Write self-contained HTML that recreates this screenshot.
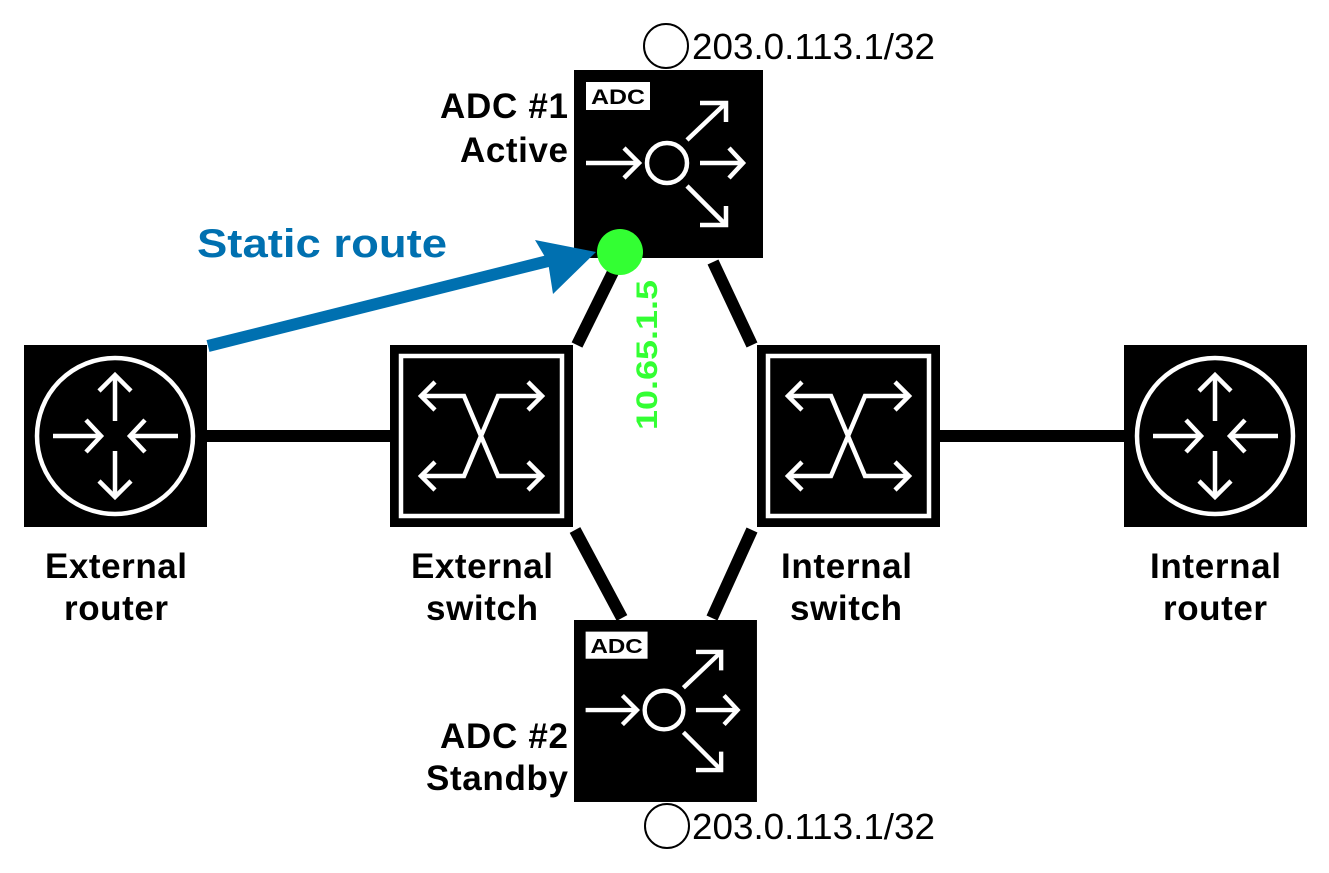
<!DOCTYPE html>
<html><head><meta charset="utf-8"><style>
html,body{margin:0;padding:0;background:#fff;}
svg{display:block;}
text{font-family:"Liberation Sans",Arial,sans-serif;}
</style></head><body>
<svg width="1329" height="873" viewBox="0 0 1329 873" xmlns="http://www.w3.org/2000/svg">
<defs>
<g id="router">
  <rect width="183" height="182" fill="#000"/>
  <circle cx="91" cy="91" r="78" fill="none" stroke="#fff" stroke-width="4.5"/>
  <g stroke="#fff" stroke-width="4.5" fill="none">
    <line x1="29" y1="91" x2="76" y2="91"/><polyline points="62,75 77,91 62,107"/>
    <line x1="154" y1="91" x2="107" y2="91"/><polyline points="121,75 106,91 121,107"/>
    <line x1="91" y1="76" x2="91" y2="30"/><polyline points="75,46 91,30 107,46"/>
    <line x1="91" y1="106" x2="91" y2="152"/><polyline points="75,136 91,152 107,136"/>
  </g>
</g>
<g id="switch">
  <rect width="183" height="182" fill="#000"/>
  <rect x="11" y="11" width="161" height="160" fill="none" stroke="#fff" stroke-width="4.5"/>
  <g stroke="#fff" stroke-width="4.5" fill="none">
    <polyline points="31,51 74,51 108,131 152,131"/>
    <polyline points="31,131 74,131 108,51 152,51"/>
    <polyline points="45,37 31,51 45,65"/><polyline points="45,117 31,131 45,145"/>
    <polyline points="138,37 152,51 138,65"/><polyline points="138,117 152,131 138,145"/>
  </g>
</g>
<g id="adc">
  <rect width="189" height="188" fill="#000"/>
  <rect x="12" y="12" width="64" height="28" fill="#fff"/>
  <text x="17" y="34" font-size="21" font-weight="bold" fill="#000" textLength="54" lengthAdjust="spacingAndGlyphs">ADC</text>
  <g stroke="#fff" stroke-width="4.5" fill="none">
    <circle cx="93" cy="93" r="20"/>
    <line x1="12" y1="93" x2="64" y2="93"/><polyline points="50,78 65,93 50,108"/>
    <line x1="126" y1="93" x2="168" y2="93"/><polyline points="155,78 169,93 155,108"/>
    <line x1="113" y1="70" x2="152" y2="33"/><polyline points="126,33 152,33 152,52"/>
    <line x1="113" y1="116" x2="152" y2="155"/><polyline points="126,155 152,155 152,136"/>
  </g>
</g>
</defs>

<g stroke="#000" stroke-width="12">
  <line x1="200" y1="436" x2="395" y2="436"/>
  <line x1="935" y1="436" x2="1130" y2="436"/>
  <line x1="577" y1="345" x2="615" y2="268"/>
  <line x1="713" y1="262" x2="752" y2="345"/>
  <line x1="575" y1="530" x2="622" y2="618"/>
  <line x1="752" y1="530" x2="712" y2="618"/>
</g>

<use href="#router" x="24" y="345"/>
<use href="#router" x="1124" y="345"/>
<use href="#switch" x="390" y="345"/>
<use href="#switch" x="757" y="345"/>
<use href="#adc" x="574" y="70"/>
<g transform="translate(574,620) scale(0.968)"><use href="#adc"/></g>

<circle cx="666" cy="46" r="22" fill="#fff" stroke="#000" stroke-width="2"/>
<text x="692" y="59" font-size="36" fill="#000" textLength="243" lengthAdjust="spacingAndGlyphs">203.0.113.1/32</text>
<circle cx="667" cy="826" r="22" fill="#fff" stroke="#000" stroke-width="2"/>
<text x="692" y="839" font-size="36" fill="#000" textLength="243" lengthAdjust="spacingAndGlyphs">203.0.113.1/32</text>

<line x1="208" y1="346" x2="560" y2="258" stroke="#0070b0" stroke-width="12"/>
<polygon points="596,252 535,240 548,262 553,294" fill="#0070b0"/>
<circle cx="620" cy="252" r="23" fill="#33ff33"/>
<text x="197" y="257" font-size="40" font-weight="bold" fill="#0070b0" textLength="250" lengthAdjust="spacingAndGlyphs">Static route</text>
<text transform="translate(657,280) rotate(-90)" x="-150" y="0" font-size="30" font-weight="bold" fill="#33ff33" textLength="150" lengthAdjust="spacingAndGlyphs">10.65.1.5</text>

<g font-size="35" font-weight="bold" fill="#000" lengthAdjust="spacingAndGlyphs">
  <text x="45" y="578" textLength="142">External</text><text x="64" y="620" textLength="104">router</text>
  <text x="411" y="578" textLength="142">External</text><text x="426" y="620" textLength="112">switch</text>
  <text x="781" y="578" textLength="131">Internal</text><text x="790" y="620" textLength="112">switch</text>
  <text x="1150" y="578" textLength="131">Internal</text><text x="1163" y="620" textLength="104">router</text>
  <text x="440" y="118" textLength="128">ADC #1</text><text x="460" y="162" textLength="108">Active</text>
  <text x="440" y="748" textLength="128">ADC #2</text><text x="426" y="790" textLength="142">Standby</text>
</g>
</svg>
</body></html>
